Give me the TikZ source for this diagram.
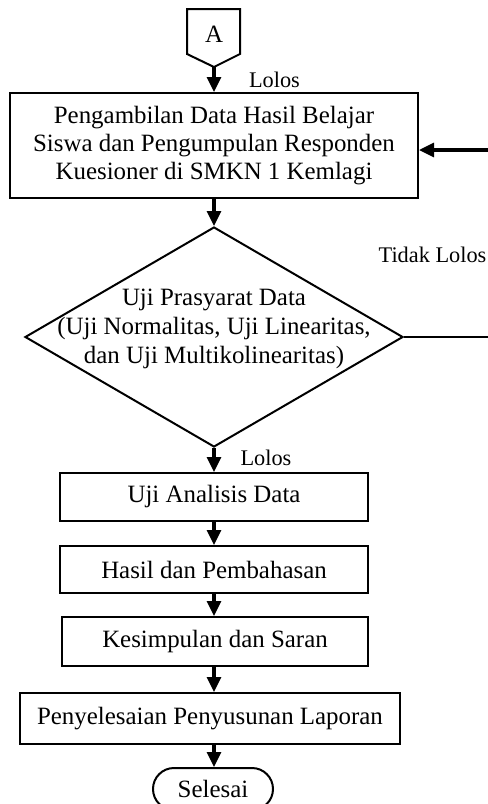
\documentclass[tikz,border=0pt]{standalone}
\usepackage{fontspec}
\setmainfont{Liberation Serif}
\usetikzlibrary{shapes.geometric,arrows.meta}
\begin{document}
\begin{tikzpicture}[x=0.5bp,y=-0.5bp,
  every node/.style={font=\fontsize{12.5}{14}\selectfont, inner sep=0pt},
  procbox/.style={draw, line width=1bp, align=center},
  lbl/.style={font=\fontsize{11.2}{13}\selectfont},
  flow/.style={line width=1.6bp, -{Triangle[length=7.5bp,width=7bp]}},
  plain/.style={line width=1bp}]
\useasboundingbox (0,0) rectangle (488,804);
% off-page connector
\draw[line width=1bp] (187,9) -- (240,9) -- (240,54) -- (214,67) -- (187,54) -- cycle;
\node (A) at (214,34) {A};
\coordinate (Atip) at (214,67);
% boxes
\node[procbox, minimum width=204bp, minimum height=52.5bp] (b1) at (214,145.5)
  {Pengambilan Data Hasil Belajar\\Siswa dan Pengumpulan Responden\\Kuesioner di SMKN 1 Kemlagi};
\node[draw, diamond, line width=1bp, minimum width=189bp, minimum height=110bp] (dec) at (214,337) {};
\node[align=center, font=\fontsize{12.5}{14.75}\selectfont] (decT) at (214,329)
  {Uji Prasyarat Data\\(Uji Normalitas, Uji Linearitas,\\dan Uji Multikolinearitas)};
\node[procbox, minimum width=154bp, minimum height=24bp] (b2) at (214,497) {Uji Analisis Data};
\node[procbox, minimum width=154bp, minimum height=23.5bp] (b3) at (214,569.5) {Hasil dan Pembahasan};
\node[procbox, minimum width=153bp, minimum height=24.5bp] (b4) at (215,641.5) {Kesimpulan dan Saran};
\node[procbox, minimum width=190bp, minimum height=25.5bp] (b5) at (210,718.5) {Penyelesaian Penyusunan Laporan};
\node[draw, line width=1bp, rounded corners=10.5bp, minimum width=60bp, minimum height=21bp] (end) at (213,789) {Selesai};
% labels
\node[lbl] (l1) at (274.5,80) {Lolos};
\node[lbl] (l2) at (432.5,255) {Tidak Lolos};
\node[lbl] (l3) at (266,458) {Lolos};
% connectors
\draw[flow] (Atip) -- (b1.north);
\draw[flow] (b1.south) -- (dec.north);
\draw[flow] (dec.south) -- (b2.north);
\draw[flow] (b2.south) -- (b3.north);
\draw[flow] (b3.south) -- (b4.north -| b3.south);
\draw[flow] (b4.south -| b3.south) -- (b5.north -| b3.south);
\draw[flow] (b5.south -| b3.south) -- (end.north -| b3.south);
\coordinate (r1) at (488,150);
\coordinate (r2) at (488,337);
\draw[plain] (dec.east) -- (r2);
\draw[flow] (r1) -- (r1 -| b1.east);
\end{tikzpicture}
\end{document}
